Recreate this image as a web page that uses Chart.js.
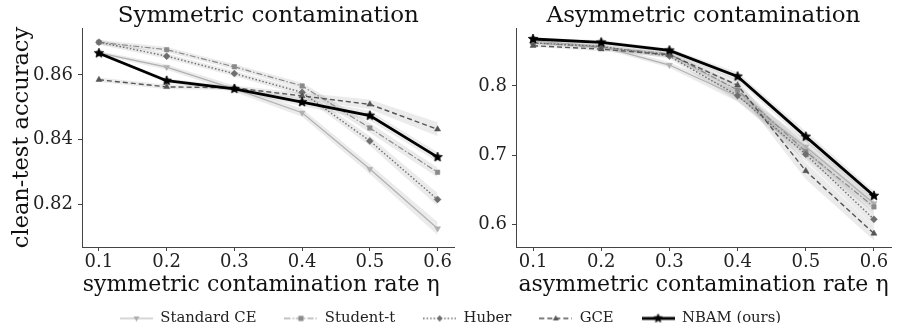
<!DOCTYPE html>
<html><head><meta charset="utf-8">
<script src="https://cdn.jsdelivr.net/npm/chart.js@4/dist/chart.umd.min.js"></script>
<style>
html,body{margin:0;padding:0;background:#fff;width:901px;height:331px;overflow:hidden;position:relative;}
canvas{position:absolute;}
</style></head>
<body>
<canvas id="c1" width="460" height="300" style="left:0;top:0"></canvas>
<canvas id="c2" width="451" height="300" style="left:450px;top:0"></canvas>
<canvas id="c3" width="901" height="80" style="left:0;top:283px"></canvas>
<script>
// ---- data ----
const rates = [0.1, 0.2, 0.3, 0.4, 0.5, 0.6];
const xTicks = [0.1, 0.2, 0.3, 0.4, 0.5, 0.6];
const symTicks = [0.82, 0.84, 0.86];
const asymTicks = [0.6, 0.7, 0.8];
const methods = ["Standard CE", "Student-t", "Huber", "GCE", "NBAM (ours)"];

const symCE      = [0.8668, 0.8624, 0.8557, 0.8483, 0.8309, 0.8125];
const symStudent = [0.8701, 0.8678, 0.8625, 0.8566, 0.8436, 0.8299];
const symHuber   = [0.8701, 0.8658, 0.8604, 0.8546, 0.8396, 0.8215];
const symGCE     = [0.8585, 0.8563, 0.8560, 0.8535, 0.8509, 0.8432];
const symNBAM    = [0.8667, 0.8582, 0.8557, 0.8516, 0.8474, 0.8346];

const symCEStd      = [0.0006, 0.0008, 0.0010, 0.0012, 0.0015, 0.0020];
const symStudentStd = [0.0008, 0.0008, 0.0008, 0.0010, 0.0015, 0.0015];
const symHuberStd   = [0.0008, 0.0008, 0.0008, 0.0010, 0.0015, 0.0020];
const symGCEStd     = [0.0007, 0.0007, 0.0007, 0.0010, 0.0015, 0.0022];
const symNBAMStd    = [0.0005, 0.0007, 0.0008, 0.0012, 0.0015, 0.0015];

const asymCE      = [0.865, 0.857, 0.830, 0.785, 0.712, 0.630];
const asymStudent = [0.862, 0.856, 0.846, 0.794, 0.705, 0.625];
const asymHuber   = [0.862, 0.857, 0.843, 0.786, 0.701, 0.607];
const asymGCE     = [0.858, 0.853, 0.845, 0.801, 0.677, 0.5865];
const asymNBAM    = [0.8677, 0.8628, 0.8512, 0.8135, 0.7265, 0.641];

const asymCEStd      = [0.002, 0.003, 0.004, 0.008, 0.010, 0.010];
const asymStudentStd = [0.002, 0.003, 0.004, 0.008, 0.010, 0.009];
const asymHuberStd   = [0.002, 0.003, 0.004, 0.008, 0.010, 0.010];
const asymGCEStd     = [0.002, 0.003, 0.004, 0.008, 0.012, 0.010];
const asymNBAMStd    = [0.002, 0.003, 0.003, 0.006, 0.008, 0.007];

// ---- styles ----
const FONT = "'DejaVu Serif', serif";
function starImage(r, color) {
  const c = document.createElement('canvas');
  const s = Math.ceil(r * 2 + 2);
  c.width = s; c.height = s;
  const g = c.getContext('2d');
  g.fillStyle = color; g.strokeStyle = color; g.lineWidth = 0.8;
  g.beginPath();
  for (let i = 0; i < 10; i++) {
    const rr = i % 2 === 0 ? r : r * 0.45;
    const a = -Math.PI / 2 + i * Math.PI / 5;
    const px = s / 2 + rr * Math.cos(a), py = s / 2 + rr * Math.sin(a);
    if (i === 0) g.moveTo(px, py); else g.lineTo(px, py);
  }
  g.closePath(); g.fill(); g.stroke();
  return c;
}
const starPt = starImage(5, '#000');

const styles = [
  {color: '#b0b0b0', dash: [], width: 1.2, point: 'triangle', rot: 180, radius: 3.5},
  {color: '#8a8a8a', dash: [6, 2, 1.5, 2], width: 1.2, point: 'rect', rot: 0, radius: 3.2},
  {color: '#6e6e6e', dash: [1.5, 2], width: 1.4, point: 'rectRot', rot: 0, radius: 3.5},
  {color: '#555555', dash: [5, 3], width: 1.4, point: 'triangle', rot: 0, radius: 3.5},
  {color: '#000000', dash: [], width: 2.8, point: starPt, rot: 0, radius: 5},
];

function pts(vals) { return rates.map((r, i) => ({x: r, y: vals[i]})); }

function buildDatasets(series, stds) {
  const ds = [];
  series.forEach((vals, k) => {
    const up = vals.map((v, i) => v + stds[k][i]);
    const lo = vals.map((v, i) => v - stds[k][i]);
    ds.push({data: pts(up), borderWidth: 0, pointRadius: 0, fill: false, order: 20, borderColor: 'rgba(0,0,0,0)'});
    ds.push({data: pts(lo), borderWidth: 0, pointRadius: 0, fill: '-1', order: 20, borderColor: 'rgba(0,0,0,0)', backgroundColor: 'rgba(0,0,0,0.08)'});
  });
  series.forEach((vals, k) => {
    const s = styles[k];
    ds.push({
      label: methods[k], data: pts(vals), borderColor: s.color, backgroundColor: s.color,
      borderWidth: s.width, borderDash: s.dash, pointStyle: s.point, pointRotation: s.rot,
      pointRadius: s.radius, pointBorderWidth: 0.5, pointBackgroundColor: s.color, pointBorderColor: s.color,
      fill: false, tension: 0, order: 5 - k
    });
  });
  return ds;
}

const titlePlugin = {
  id: 'panelTitle',
  afterDraw(chart, args, opts) {
    const ctx = chart.ctx, a = chart.chartArea;
    ctx.save();
    ctx.font = "23px " + FONT;
    ctx.fillStyle = '#111';
    ctx.textAlign = 'center';
    ctx.textBaseline = 'alphabetic';
    ctx.fillText(opts.text, (a.left + a.right) / 2, 22);
    ctx.restore();
  }
};

function makeChart(id, title, xTitle, yTitle, series, stds, yTickVals, yMin, yMax, decimals, yWidth, padRight) {
  return new Chart(document.getElementById(id), {
    type: 'line',
    data: {datasets: buildDatasets(series, stds)},
    plugins: [titlePlugin],
    options: {
      responsive: false, animation: false, devicePixelRatio: 1,
      layout: {padding: {left: 0, right: padRight, top: 28, bottom: 0}},
      plugins: {
        legend: {display: false}, tooltip: {enabled: false}, title: {display: false},
        panelTitle: {text: title}
      },
      scales: {
        x: {
          type: 'linear', min: 0.075, max: 0.625,
          afterBuildTicks: s => { s.ticks = xTicks.map(v => ({value: v})); },
          afterFit: s => { s.height = 53; },
          ticks: {color: '#222', font: {family: FONT, size: 18}, padding: 1, maxRotation: 0, callback: v => v.toFixed(1)},
          grid: {display: true, drawOnChartArea: false, drawTicks: true, tickLength: 4, color: '#444', tickColor: '#444'},
          border: {display: true, color: '#444', width: 1},
          title: {display: true, text: xTitle, color: '#111', font: {family: FONT, size: 22, lineHeight: 1.2}, padding: {top: 0, bottom: 1.8}}
        },
        y: {
          type: 'linear', min: yMin, max: yMax,
          afterBuildTicks: s => { s.ticks = yTickVals.map(v => ({value: v})); },
          afterFit: s => { s.width = yWidth; },
          ticks: {color: '#222', font: {family: FONT, size: 18}, padding: 5, callback: v => v.toFixed(decimals)},
          grid: {display: true, drawOnChartArea: false, drawTicks: true, tickLength: 4, color: '#444', tickColor: '#444'},
          border: {display: true, color: '#444', width: 1},
          title: {display: !!yTitle, text: yTitle, color: '#111', font: {family: FONT, size: 22.5, lineHeight: 1.2}, padding: {top: 8.5, bottom: 0}}
        }
      }
    }
  });
}

makeChart('c1', 'Symmetric contamination', 'symmetric contamination rate η  ', 'clean-test accuracy',
  [symCE, symStudent, symHuber, symGCE, symNBAM],
  [symCEStd, symStudentStd, symHuberStd, symGCEStd, symNBAMStd],
  symTicks, 0.8068, 0.8745, 2, 82, 3);

makeChart('c2', 'Asymmetric contamination', 'asymmetric contamination rate η', '',
  [asymCE, asymStudent, asymHuber, asymGCE, asymNBAM],
  [asymCEStd, asymStudentStd, asymHuberStd, asymGCEStd, asymNBAMStd],
  asymTicks, 0.567, 0.8836, 1, 66, 10);

// ---- legend ----
function legendImage(k) {
  const s = styles[k];
  const c = document.createElement('canvas');
  c.width = 33; c.height = 12;
  const g = c.getContext('2d');
  g.strokeStyle = s.color; g.lineWidth = s.width; g.setLineDash(s.dash);
  g.beginPath(); g.moveTo(0, 6); g.lineTo(33, 6); g.stroke();
  g.setLineDash([]);
  g.fillStyle = s.color;
  const cx = 16.5, cy = 6;
  if (k === 4) { g.drawImage(starImage(4.5, '#000'), cx - 5.5, cy - 5.5); }
  else {
    g.save(); g.translate(cx, cy); g.rotate(s.rot * Math.PI / 180);
    g.beginPath();
    if (s.point === 'triangle') { g.moveTo(0, -3.2); g.lineTo(3, 2); g.lineTo(-3, 2); }
    else if (s.point === 'rect') { g.rect(-2.6, -2.6, 5.2, 5.2); }
    else { g.moveTo(0, -3.3); g.lineTo(3, 0); g.lineTo(0, 3.3); g.lineTo(-3, 0); }
    g.closePath(); g.fill(); g.restore();
  }
  return c;
}
const legendImgs = methods.map((m, k) => legendImage(k));

new Chart(document.getElementById('c3'), {
  type: 'line',
  data: {datasets: methods.map((m, k) => ({label: m, data: [], borderColor: styles[k].color}))},
  options: {
    responsive: false, animation: false, devicePixelRatio: 1,
    scales: {x: {display: false}, y: {display: false}},
    plugins: {
      tooltip: {enabled: false},
      legend: {
        display: true, position: 'top', align: 'center',
        labels: {
          usePointStyle: true, pointStyleWidth: 33, padding: 28, color: '#222',
          font: {family: FONT, size: 14.8},
          generateLabels: chart => methods.map((m, k) => ({
            text: m, pointStyle: legendImgs[k], fillStyle: styles[k].color, strokeStyle: styles[k].color,
            lineWidth: 0, hidden: false, datasetIndex: k, fontColor: '#222'
          }))
        }
      }
    }
  }
});
</script>
</body></html>
